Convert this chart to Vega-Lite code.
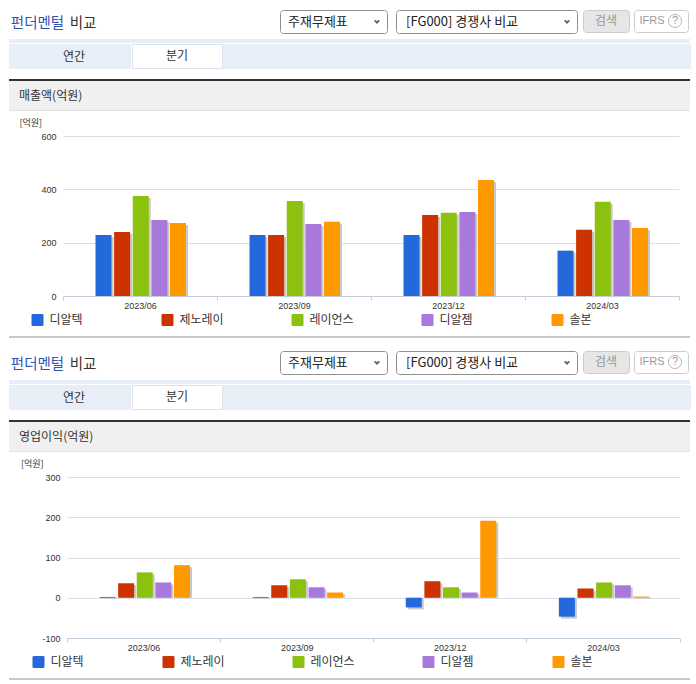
{
"$schema":"https://vega.github.io/schema/vega-lite/v6.json",
"background":"white",
"padding":{"left":9,"top":9,"right":0,"bottom":0},
"spacing":0,
"resolve":{"scale":{"color":"independent"},"legend":{"color":"independent"}},
"datasets":{
"sales":[
{"q":"2023/06","co":"디알텍","v":229},{"q":"2023/06","co":"제노레이","v":240},{"q":"2023/06","co":"레이언스","v":375},{"q":"2023/06","co":"디알젬","v":285},{"q":"2023/06","co":"솔본","v":274},
{"q":"2023/09","co":"디알텍","v":229},{"q":"2023/09","co":"제노레이","v":229},{"q":"2023/09","co":"레이언스","v":356},{"q":"2023/09","co":"디알젬","v":270},{"q":"2023/09","co":"솔본","v":278},
{"q":"2023/12","co":"디알텍","v":229},{"q":"2023/12","co":"제노레이","v":304},{"q":"2023/12","co":"레이언스","v":312},{"q":"2023/12","co":"디알젬","v":315},{"q":"2023/12","co":"솔본","v":435},
{"q":"2024/03","co":"디알텍","v":170},{"q":"2024/03","co":"제노레이","v":248},{"q":"2024/03","co":"레이언스","v":353},{"q":"2024/03","co":"디알젬","v":285},{"q":"2024/03","co":"솔본","v":255}],
"profit":[
{"q":"2023/06","co":"디알텍","v":2},{"q":"2023/06","co":"제노레이","v":36},{"q":"2023/06","co":"레이언스","v":63},{"q":"2023/06","co":"디알젬","v":38},{"q":"2023/06","co":"솔본","v":81},
{"q":"2023/09","co":"디알텍","v":2},{"q":"2023/09","co":"제노레이","v":31},{"q":"2023/09","co":"레이언스","v":46},{"q":"2023/09","co":"디알젬","v":26},{"q":"2023/09","co":"솔본","v":13},
{"q":"2023/12","co":"디알텍","v":-24},{"q":"2023/12","co":"제노레이","v":41},{"q":"2023/12","co":"레이언스","v":26},{"q":"2023/12","co":"디알젬","v":13},{"q":"2023/12","co":"솔본","v":191},
{"q":"2024/03","co":"디알텍","v":-47},{"q":"2024/03","co":"제노레이","v":23},{"q":"2024/03","co":"레이언스","v":38},{"q":"2024/03","co":"디알젬","v":31},{"q":"2024/03","co":"솔본","v":3}],
"sel1":[{"part":"label","t":"주재무제표"},{"part":"arrow"}],
"sel2":[{"part":"label","t":"[FG000] 경쟁사 비교"},{"part":"arrow"}],
"ifrs":[{"part":"IFRS","t":"IFRS"},{"part":"help","t":"?"}]
},
"vconcat":[
{"spacing":0,"hconcat":[
 {"width":57,"height":24,"data":{"values":[{"t":"펀더멘털"}]},"mark":{"type":"text","font":"Noto Sans CJK KR","fontSize":14.5,"dy":2,"color":"#2f55b5"},"encoding":{"text":{"field":"t"}}},
 {"width":34,"height":24,"data":{"values":[{"t":"비교"}]},"mark":{"type":"text","font":"Noto Sans CJK KR","fontSize":14.5,"dy":2,"color":"#333333"},"encoding":{"text":{"field":"t"}}},
 {"width":179,"height":24,"data":{"values":[]},"mark":"text"},
 {"width":107,"height":23,"view":{"fill":"white","stroke":"#8f8f8f","cornerRadius":3},"data":{"name":"sel1"},"encoding":{"x":{"field":"part","type":"nominal","scale":{"type":"point","padding":0,"domain":["label","arrow"],"range":[8,97]},"axis":null}},"layer":[
  {"transform":[{"filter":"datum.part == 'label'"}],"mark":{"type":"text","align":"left","font":"Noto Sans CJK KR","fontSize":13,"color":"#222222"},"encoding":{"text":{"field":"t"}}},
  {"transform":[{"filter":"datum.part == 'arrow'"}],"mark":{"type":"point","shape":"M-1,-0.5L0,0.5L1,-0.5","size":20,"color":"#222222","strokeWidth":2}}]},
 {"width":7,"height":24,"data":{"values":[]},"mark":"text"},
 {"width":181,"height":23,"view":{"fill":"white","stroke":"#8f8f8f","cornerRadius":3},"data":{"name":"sel2"},"encoding":{"x":{"field":"part","type":"nominal","scale":{"type":"point","padding":0,"domain":["label","arrow"],"range":[10,171]},"axis":null}},"layer":[
  {"transform":[{"filter":"datum.part == 'label'"}],"mark":{"type":"text","align":"left","font":"Noto Sans CJK KR","fontSize":13,"color":"#222222"},"encoding":{"text":{"field":"t"}}},
  {"transform":[{"filter":"datum.part == 'arrow'"}],"mark":{"type":"point","shape":"M-1,-0.5L0,0.5L1,-0.5","size":20,"color":"#222222","strokeWidth":2}}]},
 {"width":4,"height":24,"data":{"values":[]},"mark":"text"},
 {"width":46,"height":22,"view":{"fill":"#e6e6e6","stroke":"#cccccc","cornerRadius":3},"data":{"values":[{"t":"검색"}]},"mark":{"type":"text","font":"Noto Sans CJK KR","fontSize":12,"color":"#999999"},"encoding":{"text":{"field":"t"}}},
 {"width":3,"height":24,"data":{"values":[]},"mark":"text"},
 {"width":54,"height":22,"view":{"fill":"white","stroke":"#cccccc","cornerRadius":3},"data":{"name":"ifrs"},"encoding":{"x":{"field":"part","type":"nominal","scale":{"type":"point","padding":0,"domain":["IFRS","help"],"range":[18,41]},"axis":null}},"layer":[
  {"mark":{"type":"text","font":"Liberation Sans","fontSize":11,"color":"#999999"},"encoding":{"text":{"field":"t"}}},
  {"transform":[{"filter":"datum.part == 'help'"}],"mark":{"type":"point","size":170,"color":"#999999","strokeWidth":1}}]}
]},
{"width":680,"height":5,"data":{"values":[]},"mark":"text"},
{"width":681,"height":4,"view":{"fill":"#e8eef7","stroke":null},"data":{"values":[]},"mark":"text"},
{"spacing":0,"hconcat":[
 {"width":122,"height":25,"view":{"fill":"#e8eef7","stroke":null},"data":{"values":[{"t":"연간"}]},"mark":{"type":"text","font":"Noto Sans CJK KR","fontSize":12,"dx":4,"color":"#333333"},"encoding":{"text":{"field":"t"}}},
 {"width":90,"height":24,"view":{"fill":"white","stroke":"#dbe3ef"},"data":{"values":[{"t":"분기"}]},"mark":{"type":"text","font":"Noto Sans CJK KR","fontSize":12,"color":"#333333"},"encoding":{"text":{"field":"t"}}},
 {"width":468,"height":25,"view":{"fill":"#e8eef7","stroke":null},"data":{"values":[]},"mark":"text"}
]},
{"width":681,"height":10,"data":{"values":[]},"mark":"text"},
{"width":681,"height":2,"view":{"fill":"#333333","stroke":null},"data":{"values":[]},"mark":"text"},
{"width":681,"height":29,"view":{"fill":"#f0f0f0","stroke":null},"data":{"values":[{"part":"label","t":"매출액(억원)"}]},"mark":{"type":"text","align":"left","font":"Noto Sans CJK KR","fontSize":12,"color":"#333333"},"encoding":{"x":{"field":"part","type":"nominal","scale":{"type":"point","padding":0,"domain":["label","end"],"range":[10,680]},"axis":null},"text":{"field":"t"}}},
{"width":681,"height":1,"view":{"fill":"#e3e3e3","stroke":null},"data":{"values":[]},"mark":"text"},
{"width":681,"height":7,"data":{"values":[]},"mark":"text"},
{"spacing":0,"resolve":{"scale":{"color":"independent"},"legend":{"color":"independent"}},"hconcat":[
 {"width":9.5,"height":10,"data":{"values":[]},"mark":"text"},
 {"width":616,"height":160,"data":{"name":"sales"},
  "encoding":{
   "x":{"field":"q","type":"nominal","title":null,"scale":{"paddingInner":0,"paddingOuter":0},"axis":{"labelAngle":0,"labelFont":"Liberation Sans","labelFontSize":9,"labelColor":"#333333","labelPadding":1,"domainColor":"#c3cfdd","tickColor":"#c3cfdd","tickBand":"extent","tickSize":4,"grid":false}},
   "y":{"field":"v","type":"quantitative","stack":null,"scale":{"domain":[0,600],"nice":false},"axis":{"values":[0,200,400,600],"title":"[억원]","titleAngle":0,"titleAlign":"left","titleBaseline":"middle","titleX":-44,"titleY":-14,"titleFont":"Noto Sans CJK KR","titleFontSize":9,"titleFontWeight":"normal","titleColor":"#333333","labelFont":"Liberation Sans","labelFontSize":9,"labelColor":"#333333","labelPadding":7,"ticks":false,"domain":false,"gridColor":"#d9dfe6"}}},
  "resolve":{"scale":{"xOffset":"independent"}},
  "layer":[
   {"mark":{"type":"bar","color":"#c9c9c9","yOffset":2},"encoding":{"xOffset":{"field":"co","type":"nominal","sort":["디알텍","제노레이","레이언스","디알젬","솔본"],"scale":{"paddingInner":0.14,"paddingOuter":0,"range":[34.5,125]}}}},
   {"mark":{"type":"bar"},"encoding":{"xOffset":{"field":"co","type":"nominal","sort":["디알텍","제노레이","레이언스","디알젬","솔본"],"scale":{"paddingInner":0.14,"paddingOuter":0,"range":[32.5,123]}},"color":{"field":"co","type":"nominal","scale":{"domain":["디알텍","제노레이","레이언스","디알젬","솔본"],"range":["#2369db","#cc3300","#8dc10f","#a878db","#ff9900"]},
    "legend":{"orient":"none","legendX":-31.5,"legendY":178,"direction":"horizontal","columns":5,"gridAlign":"all","columnPadding":67,"title":null,"symbolType":"M-0.8,-1H0.8Q1,-1,1,-0.8V0.8Q1,1,0.8,1H-0.8Q-1,1,-1,0.8V-0.8Q-1,-1,-0.8,-1Z","symbolSize":144,"symbolStrokeWidth":0,"symbolOpacity":1,"labelFont":"Noto Sans CJK KR","labelFontSize":12,"labelColor":"#333333","labelOffset":6,"labelLimit":100}}}}
  ]}
]},
{"width":681,"height":10,"data":{"values":[]},"mark":"text"},
{"width":681,"height":2,"view":{"fill":"#c8c8c8","stroke":null},"data":{"values":[]},"mark":"text"},
{"width":681,"height":12,"data":{"values":[]},"mark":"text"},
{"spacing":0,"hconcat":[
 {"width":57,"height":24,"data":{"values":[{"t":"펀더멘털"}]},"mark":{"type":"text","font":"Noto Sans CJK KR","fontSize":14.5,"dy":2,"color":"#2f55b5"},"encoding":{"text":{"field":"t"}}},
 {"width":34,"height":24,"data":{"values":[{"t":"비교"}]},"mark":{"type":"text","font":"Noto Sans CJK KR","fontSize":14.5,"dy":2,"color":"#333333"},"encoding":{"text":{"field":"t"}}},
 {"width":179,"height":24,"data":{"values":[]},"mark":"text"},
 {"width":107,"height":23,"view":{"fill":"white","stroke":"#8f8f8f","cornerRadius":3},"data":{"name":"sel1"},"encoding":{"x":{"field":"part","type":"nominal","scale":{"type":"point","padding":0,"domain":["label","arrow"],"range":[8,97]},"axis":null}},"layer":[
  {"transform":[{"filter":"datum.part == 'label'"}],"mark":{"type":"text","align":"left","font":"Noto Sans CJK KR","fontSize":13,"color":"#222222"},"encoding":{"text":{"field":"t"}}},
  {"transform":[{"filter":"datum.part == 'arrow'"}],"mark":{"type":"point","shape":"M-1,-0.5L0,0.5L1,-0.5","size":20,"color":"#222222","strokeWidth":2}}]},
 {"width":7,"height":24,"data":{"values":[]},"mark":"text"},
 {"width":181,"height":23,"view":{"fill":"white","stroke":"#8f8f8f","cornerRadius":3},"data":{"name":"sel2"},"encoding":{"x":{"field":"part","type":"nominal","scale":{"type":"point","padding":0,"domain":["label","arrow"],"range":[10,171]},"axis":null}},"layer":[
  {"transform":[{"filter":"datum.part == 'label'"}],"mark":{"type":"text","align":"left","font":"Noto Sans CJK KR","fontSize":13,"color":"#222222"},"encoding":{"text":{"field":"t"}}},
  {"transform":[{"filter":"datum.part == 'arrow'"}],"mark":{"type":"point","shape":"M-1,-0.5L0,0.5L1,-0.5","size":20,"color":"#222222","strokeWidth":2}}]},
 {"width":4,"height":24,"data":{"values":[]},"mark":"text"},
 {"width":46,"height":22,"view":{"fill":"#e6e6e6","stroke":"#cccccc","cornerRadius":3},"data":{"values":[{"t":"검색"}]},"mark":{"type":"text","font":"Noto Sans CJK KR","fontSize":12,"color":"#999999"},"encoding":{"text":{"field":"t"}}},
 {"width":3,"height":24,"data":{"values":[]},"mark":"text"},
 {"width":54,"height":22,"view":{"fill":"white","stroke":"#cccccc","cornerRadius":3},"data":{"name":"ifrs"},"encoding":{"x":{"field":"part","type":"nominal","scale":{"type":"point","padding":0,"domain":["IFRS","help"],"range":[18,41]},"axis":null}},"layer":[
  {"mark":{"type":"text","font":"Liberation Sans","fontSize":11,"color":"#999999"},"encoding":{"text":{"field":"t"}}},
  {"transform":[{"filter":"datum.part == 'help'"}],"mark":{"type":"point","size":170,"color":"#999999","strokeWidth":1}}]}
]},
{"width":680,"height":5,"data":{"values":[]},"mark":"text"},
{"width":681,"height":4,"view":{"fill":"#e8eef7","stroke":null},"data":{"values":[]},"mark":"text"},
{"spacing":0,"hconcat":[
 {"width":122,"height":25,"view":{"fill":"#e8eef7","stroke":null},"data":{"values":[{"t":"연간"}]},"mark":{"type":"text","font":"Noto Sans CJK KR","fontSize":12,"dx":4,"color":"#333333"},"encoding":{"text":{"field":"t"}}},
 {"width":90,"height":24,"view":{"fill":"white","stroke":"#dbe3ef"},"data":{"values":[{"t":"분기"}]},"mark":{"type":"text","font":"Noto Sans CJK KR","fontSize":12,"color":"#333333"},"encoding":{"text":{"field":"t"}}},
 {"width":468,"height":25,"view":{"fill":"#e8eef7","stroke":null},"data":{"values":[]},"mark":"text"}
]},
{"width":681,"height":10,"data":{"values":[]},"mark":"text"},
{"width":681,"height":2,"view":{"fill":"#333333","stroke":null},"data":{"values":[]},"mark":"text"},
{"width":681,"height":29,"view":{"fill":"#f0f0f0","stroke":null},"data":{"values":[{"part":"label","t":"영업이익(억원)"}]},"mark":{"type":"text","align":"left","font":"Noto Sans CJK KR","fontSize":12,"color":"#333333"},"encoding":{"x":{"field":"part","type":"nominal","scale":{"type":"point","padding":0,"domain":["label","end"],"range":[10,680]},"axis":null},"text":{"field":"t"}}},
{"width":681,"height":1,"view":{"fill":"#e3e3e3","stroke":null},"data":{"values":[]},"mark":"text"},
{"width":681,"height":7,"data":{"values":[]},"mark":"text"},
{"spacing":0,"resolve":{"scale":{"color":"independent"},"legend":{"color":"independent"}},"hconcat":[
 {"width":10.5,"height":10,"data":{"values":[]},"mark":"text"},
 {"width":612.5,"height":161,"data":{"name":"profit"},
  "encoding":{
   "x":{"field":"q","type":"nominal","title":null,"scale":{"paddingInner":0,"paddingOuter":0},"axis":{"labelAngle":0,"labelFont":"Liberation Sans","labelFontSize":9,"labelColor":"#333333","labelPadding":1,"domainColor":"#c3cfdd","tickColor":"#c3cfdd","tickBand":"extent","tickSize":4,"grid":false}},
   "y":{"field":"v","type":"quantitative","stack":null,"scale":{"domain":[-100,300],"nice":false},"axis":{"values":[-100,0,100,200,300],"labelExpr":"replace(datum.label,'−','-')","title":"[억원]","titleAngle":0,"titleAlign":"left","titleBaseline":"middle","titleX":-46.5,"titleY":-14,"titleFont":"Noto Sans CJK KR","titleFontSize":9,"titleFontWeight":"normal","titleColor":"#333333","labelFont":"Liberation Sans","labelFontSize":9,"labelColor":"#333333","labelPadding":7,"ticks":false,"domain":false,"gridColor":"#d9dfe6"}}},
  "resolve":{"scale":{"xOffset":"independent"}},
  "layer":[
   {"mark":{"type":"bar","color":"#c9c9c9","yOffset":2},"encoding":{"xOffset":{"field":"co","type":"nominal","sort":["디알텍","제노레이","레이언스","디알젬","솔본"],"scale":{"paddingInner":0.14,"paddingOuter":0,"range":[34.5,125]}}}},
   {"mark":{"type":"bar"},"encoding":{"xOffset":{"field":"co","type":"nominal","sort":["디알텍","제노레이","레이언스","디알젬","솔본"],"scale":{"paddingInner":0.14,"paddingOuter":0,"range":[32.5,123]}},"color":{"field":"co","type":"nominal","scale":{"domain":["디알텍","제노레이","레이언스","디알젬","솔본"],"range":["#2369db","#cc3300","#8dc10f","#a878db","#ff9900"]},
    "legend":{"orient":"none","legendX":-34.5,"legendY":179,"direction":"horizontal","columns":5,"gridAlign":"all","columnPadding":67,"title":null,"symbolType":"M-0.8,-1H0.8Q1,-1,1,-0.8V0.8Q1,1,0.8,1H-0.8Q-1,1,-1,0.8V-0.8Q-1,-1,-0.8,-1Z","symbolSize":144,"symbolStrokeWidth":0,"symbolOpacity":1,"labelFont":"Noto Sans CJK KR","labelFontSize":12,"labelColor":"#333333","labelOffset":6,"labelLimit":100}}}}
  ]}
]},
{"width":681,"height":10,"data":{"values":[]},"mark":"text"},
{"width":681,"height":2,"view":{"fill":"#c8c8c8","stroke":null},"data":{"values":[]},"mark":"text"}
],
"config":{"view":{"stroke":null},"concat":{"spacing":0}}
}
